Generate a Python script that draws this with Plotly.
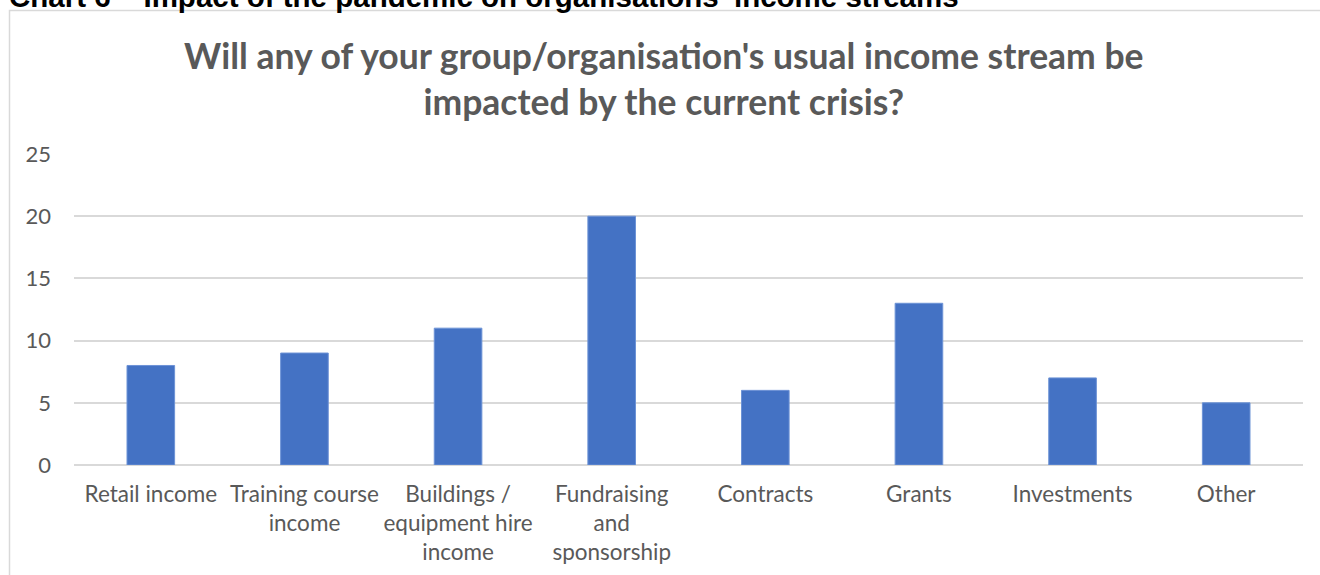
import plotly.graph_objects as go

# Survey responses: income streams expected to be hit by the crisis
categories = [
    "Retail income",
    "Training course<br>income",
    "Buildings /<br>equipment hire<br>income",
    "Fundraising<br>and<br>sponsorship",
    "Contracts",
    "Grants",
    "Investments",
    "Other",
]
responses = [8, 9, 11, 20, 6, 13, 7, 5]
y_ticks = [0, 5, 10, 15, 20, 25]

chart_title = "Will any of your group/organisation's usual income stream be<br>impacted by the current crisis?"
caption = "Chart 6 – Impact of the pandemic on organisations' income streams"

W, H = 1320, 575
L, R, T, B = 74, 17, 154, 110
plot_w = W - L - R
plot_h = H - T - B


def px_to_paper_x(px):
    return (px - L) / plot_w


def px_to_paper_y(py):
    return 1 - (py - T) / plot_h


fig = go.Figure(
    go.Bar(
        x=categories,
        y=responses,
        marker=dict(color="#4472C4", line=dict(color="#6d93d6", width=1)),
        width=0.31,
        hoverinfo="x+y",
    )
)

grey_text = "#595959"
font_body = "Lato, 'Open Sans', sans-serif"

fig.update_layout(
    width=W,
    height=H,
    margin=dict(l=L, r=R, t=T, b=B, autoexpand=False),
    paper_bgcolor="white",
    plot_bgcolor="white",
    showlegend=False,
    xaxis=dict(
        showgrid=False,
        showline=False,
        automargin=False,
        tickangle=0,
        tickfont=dict(family=font_body, size=22.5, color=grey_text),
        ticks="",
        ticklabelstandoff=13,
    ),
    yaxis=dict(
        range=[0, 25],
        tickvals=y_ticks,
        automargin=False,
        showgrid=True,
        gridcolor="#d9d9d9",
        gridwidth=1.5,
        zeroline=True,
        zerolinecolor="#d9d9d9",
        zerolinewidth=1.5,
        showline=False,
        tickfont=dict(family=font_body, size=22, color=grey_text),
        ticks="",
        ticklabelstandoff=22,
    ),
    font=dict(family=font_body, color=grey_text),
)

# Chart frame
fig.add_shape(
    type="rect",
    xref="paper",
    yref="paper",
    x0=px_to_paper_x(9.5),
    x1=px_to_paper_x(W + 20),
    y0=px_to_paper_y(H + 20),
    y1=px_to_paper_y(10.5),
    line=dict(color="#d9d9d9", width=1.5),
    fillcolor="rgba(0,0,0,0)",
    layer="below",
)

# Chart title
fig.add_annotation(
    text="<b>" + chart_title + "</b>",
    xref="paper",
    yref="paper",
    x=px_to_paper_x(664),
    y=px_to_paper_y(78),
    xanchor="center",
    yanchor="middle",
    align="center",
    showarrow=False,
    font=dict(family=font_body, size=35.5, color=grey_text),
)

# Document caption sitting above the chart frame
fig.add_annotation(
    text="<b>" + caption + "</b>",
    xref="paper",
    yref="paper",
    x=px_to_paper_x(7),
    y=px_to_paper_y(-4),
    xanchor="left",
    yanchor="middle",
    showarrow=False,
    font=dict(family="'Liberation Sans', Arial, sans-serif", size=29.5, color="black"),
)

fig.write_html("out.html")
